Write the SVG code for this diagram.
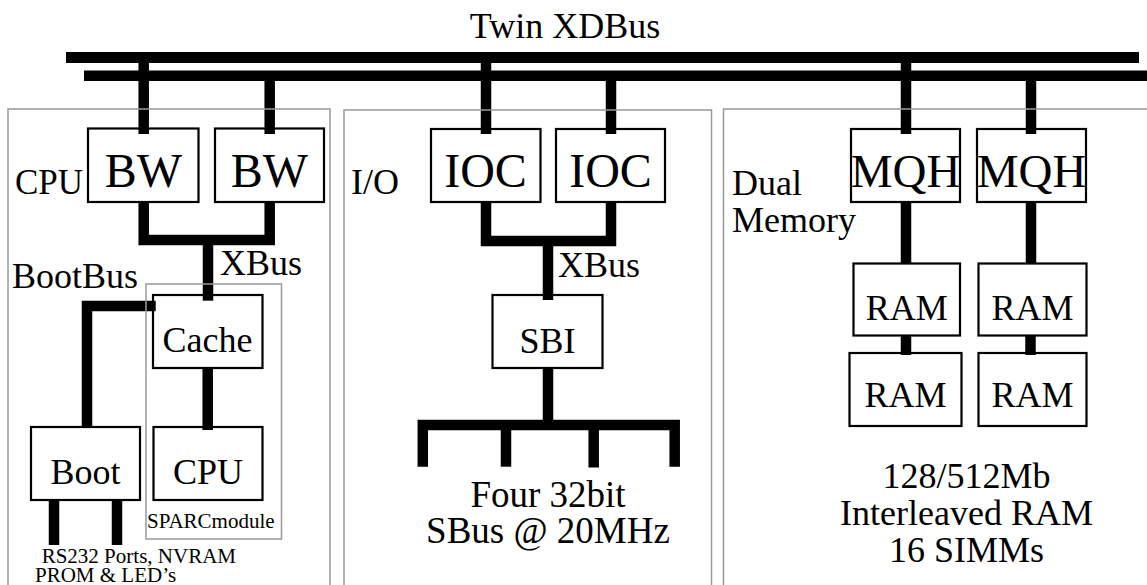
<svg xmlns="http://www.w3.org/2000/svg" width="1147" height="585" viewBox="0 0 1147 585" font-family="'Liberation Serif', 'DejaVu Serif', serif">
<style>
text{font-family:"Liberation Serif","DejaVu Serif",serif;fill:#000}
.t{font-size:36px}
.big{font-size:48px;text-anchor:middle}
.mid{font-size:36px;text-anchor:middle}
.sm{font-size:21px}
.box{fill:#fff;stroke:#000;stroke-width:2.2}
.panel{fill:none;stroke:#999;stroke-width:1.5}
.wire{fill:none;stroke:#000;stroke-width:10.5;stroke-linejoin:miter;stroke-linecap:butt}
</style>
<rect width="1147" height="585" fill="#fff"/>
<g id="xdbus">
<rect x="66" y="52" width="1073" height="11" fill="#000"/>
<rect x="84" y="70.5" width="1070" height="10.5" fill="#000"/>
<text class="mid" x="565" y="38">Twin XDBus</text>
</g>
<g id="bw1"><rect class="box" x="88" y="128.5" width="110.5" height="73.5"/><text class="big" x="143.5" y="187">BW</text></g>
<g id="bw2"><rect class="box" x="215" y="128.5" width="109" height="73.5"/><text class="big" x="269.5" y="187">BW</text></g>
<g id="cache"><rect class="box" x="153" y="295" width="109.5" height="73"/><text class="mid" x="207.5" y="352">Cache</text></g>
<g id="boot"><rect class="box" x="31" y="427" width="109" height="73"/><text class="mid" x="85.5" y="483.5">Boot</text></g>
<g id="cpu"><rect class="box" x="153.5" y="427" width="109" height="73"/><text class="mid" x="208" y="483.5">CPU</text></g>
<g id="ioc1"><rect class="box" x="431" y="129" width="109.5" height="73"/><text class="big" x="485.5" y="187">IOC</text></g>
<g id="ioc2"><rect class="box" x="556" y="129" width="109" height="73"/><text class="big" x="610.5" y="187">IOC</text></g>
<g id="sbi"><rect class="box" x="492.5" y="295" width="110" height="73"/><text class="mid" x="547.5" y="353">SBI</text></g>
<g id="mqh1"><rect class="box" x="851" y="129" width="109" height="73"/><text class="big" x="905.5" y="187" style="font-size:47px">MQH</text></g>
<g id="mqh2"><rect class="box" x="977" y="129" width="109" height="73"/><text class="big" x="1031.5" y="187" style="font-size:47px">MQH</text></g>
<g id="ram1"><rect class="box" x="853.5" y="263.5" width="106.5" height="72"/><text class="mid" x="906.7" y="319.5">RAM</text></g>
<g id="ram2"><rect class="box" x="978.5" y="263.5" width="108" height="72"/><text class="mid" x="1032.5" y="319.5">RAM</text></g>
<g id="ram3"><rect class="box" x="849.5" y="353" width="112" height="73"/><text class="mid" x="905.5" y="407">RAM</text></g>
<g id="ram4"><rect class="box" x="978.5" y="353" width="108" height="73"/><text class="mid" x="1032.5" y="407">RAM</text></g>
<g id="connectors">
<path class="wire" d="M143.7 57V134"/>
<path class="wire" d="M269.7 75V134"/>
<path class="wire" d="M143.7 202V240H269.7V202"/>
<path class="wire" d="M208 240V300.7"/>
<path class="wire" d="M155.7 306H87V427"/>
<path class="wire" d="M207.7 368V430"/>
<path class="wire" d="M54 500V545"/>
<path class="wire" d="M117 500V545"/>
<path class="wire" d="M486 57V134"/>
<path class="wire" d="M611 75V134"/>
<path class="wire" d="M486 202V241H611V202"/>
<path class="wire" d="M548 241V300"/>
<path class="wire" d="M548 368V425"/>
<path class="wire" d="M422.8 466.7V425H674.7V466.7"/>
<path class="wire" d="M506 425V466.7"/>
<path class="wire" d="M593.7 425V467.5"/>
<path class="wire" d="M906 57V134"/>
<path class="wire" d="M1031 75V134"/>
<path class="wire" d="M906 202V263.5"/>
<path class="wire" d="M1031 202V263.5"/>
<path class="wire" d="M906 335.5V355"/>
<path class="wire" d="M1030.5 335.5V355"/>
</g>
<g id="cpu-panel">
<rect class="panel" x="8" y="109" width="322" height="500"/>
<rect class="panel" x="146" y="284" width="135.5" height="255"/>
<text class="t" x="15" y="194" style="font-size:35px">CPU</text>
<text class="t" x="220" y="275">XBus</text>
<text class="t" x="12" y="288">BootBus</text>
<text class="sm" x="147" y="528">SPARCmodule</text>
<text class="sm" x="41.7" y="563">RS232 Ports, NVRAM</text>
<text class="sm" x="35" y="582">PROM &amp; LED’s</text>
</g>
<g id="io-panel">
<rect class="panel" x="344" y="110" width="367.5" height="500"/>
<text class="t" x="351" y="194">I/O</text>
<text class="t" x="558" y="277">XBus</text>
<text class="mid" x="548" y="507" style="font-size:37px">Four 32bit</text>
<text class="mid" x="548" y="543" style="font-size:37px">SBus @ 20MHz</text>
</g>
<g id="memory-panel">
<rect class="panel" x="723.5" y="109" width="440" height="500"/>
<text class="t" x="732" y="195">Dual</text>
<text class="t" x="732" y="232">Memory</text>
<text class="mid" x="966.5" y="488">128/512Mb</text>
<text class="mid" x="966.5" y="525">Interleaved RAM</text>
<text class="mid" x="966.5" y="562">16 SIMMs</text>
</g>
</svg>
